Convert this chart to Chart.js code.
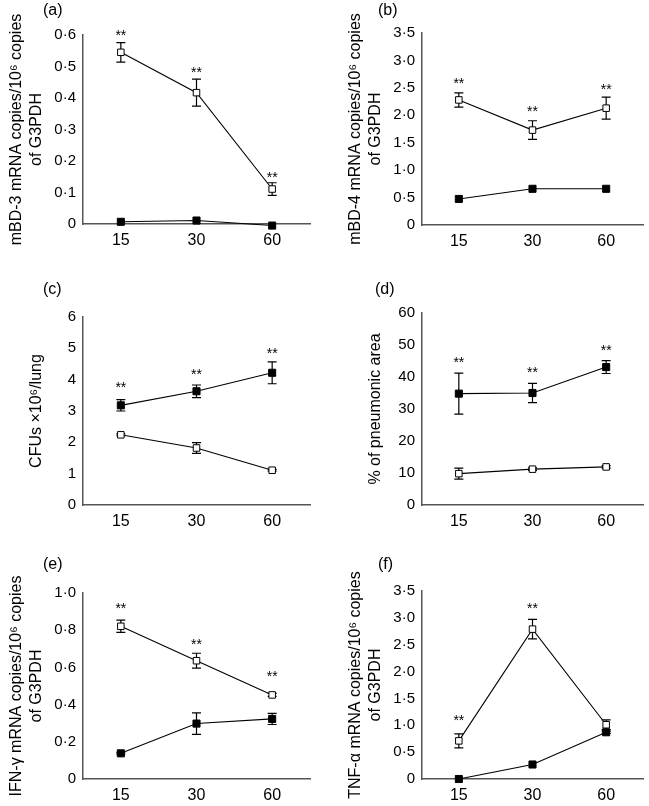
<!DOCTYPE html>
<html>
<head>
<meta charset="utf-8">
<script src="https://cdn.jsdelivr.net/npm/chart.js@4.4.0/dist/chart.umd.min.js"></script>
<style>
html, body { margin: 0; padding: 0; background: #fff; }
#wrap { position: relative; width: 649px; height: 806px; }
#wrap canvas { position: absolute; left: 0; top: 0; }
</style>
</head>
<body>
<div id="wrap"></div>
<script>
// time points (x categories)
const times = ['15', '30', '60'];

// (a) mBD-3
const aOpen = [0.545, 0.417, 0.111];
const aOpenErr = [0.031, 0.043, 0.02];
const aFilled = [0.007, 0.011, -0.005];
const aFilledErr = [0, 0, 0];
const aStars = [0.611, 0.492, 0.159];
const aTicks = [0, 0.1, 0.2, 0.3, 0.4, 0.5, 0.6];
const aLabels = ['0', '0·1', '0·2', '0·3', '0·4', '0·5', '0·6'];

// (b) mBD-4
const bOpen = [2.28, 1.73, 2.13];
const bOpenErr = [0.13, 0.17, 0.2];
const bFilled = [0.475, 0.66, 0.66];
const bFilledErr = [0, 0, 0];
const bStars = [2.65, 2.13, 2.54];
const bTicks = [0, 0.5, 1, 1.5, 2, 2.5, 3, 3.5];
const bLabels = ['0', '0·5', '1·0', '1·5', '2·0', '2·5', '3·0', '3·5'];

// (c) CFUs
const cOpen = [2.24, 1.82, 1.11];
const cOpenErr = [0.03, 0.17, 0.03];
const cFilled = [3.18, 3.63, 4.22];
const cFilledErr = [0.18, 0.2, 0.35];
const cStars = [3.85, 4.27, 4.94];
const cTicks = [0, 1, 2, 3, 4, 5, 6];
const cLabels = ['0', '1', '2', '3', '4', '5', '6'];

// (d) pneumonic area
const dOpen = [9.8, 11.2, 11.9];
const dOpenErr = [1.7, 0.4, 0.4];
const dFilled = [34.8, 35.0, 43.1];
const dFilledErr = [6.4, 3.0, 2.0];
const dStars = [45.6, 42.6, 49.4];
const dTicks = [0, 10, 20, 30, 40, 50, 60];
const dLabels = ['0', '10', '20', '30', '40', '50', '60'];

// (e) IFN-gamma
const eOpen = [0.821, 0.636, 0.452];
const eOpenErr = [0.033, 0.04, 0.008];
const eFilled = [0.138, 0.298, 0.323];
const eFilledErr = [0.005, 0.058, 0.03];
const eStars = [0.934, 0.741, 0.568];
const eTicks = [0, 0.2, 0.4, 0.6, 0.8, 1];
const eLabels = ['0', '0·2', '0·4', '0·6', '0·8', '1·0'];

// (f) TNF-alpha
const fOpen = [0.71, 2.79, 1.01];
const fOpenErr = [0.13, 0.18, 0.09];
const fFilled = [0, 0.27, 0.87];
const fFilledErr = [0, 0, 0.02];
const fStars = [1.15, 3.24, null];
const fTicks = bTicks;
const fLabels = bLabels;

const FONT = "'Liberation Sans', Arial, sans-serif";
const XFONT = "'Liberation Sans Narrow', 'Arial Narrow', 'Liberation Sans', sans-serif";

// panel boxes: plot area edges and letter position
const panels = [
  { tag: '(a)', title: ['mBD-3 mRNA copies/10⁶ copies', 'of G3PDH'], open: aOpen, openErr: aOpenErr, filled: aFilled, filledErr: aFilledErr, stars: aStars, ticks: aTicks, labels: aLabels,
    px: 0, L: 83, R: 310, T: 35, B: 224, tagX: 43, tagY: 11 },
  { tag: '(b)', title: ['mBD-4 mRNA copies/10⁶ copies', 'of G3PDH'], open: bOpen, openErr: bOpenErr, filled: bFilled, filledErr: bFilledErr, stars: bStars, ticks: bTicks, labels: bLabels,
    px: 330, L: 422, R: 645, T: 33, B: 225, tagX: 378, tagY: 11 },
  { tag: '(c)', title: 'CFUs ×10⁶/lung', open: cOpen, openErr: cOpenErr, filled: cFilled, filledErr: cFilledErr, stars: cStars, ticks: cTicks, labels: cLabels,
    px: 0, L: 83, R: 310, T: 317, B: 505, tagX: 43, tagY: 290 },
  { tag: '(d)', title: '% of pneumonic area', open: dOpen, openErr: dOpenErr, filled: dFilled, filledErr: dFilledErr, stars: dStars, ticks: dTicks, labels: dLabels,
    px: 330, L: 422, R: 645, T: 313, B: 505, tagX: 375, tagY: 290 },
  { tag: '(e)', title: ['IFN-γ mRNA copies/10⁶ copies', 'of G3PDH'], open: eOpen, openErr: eOpenErr, filled: eFilled, filledErr: eFilledErr, stars: eStars, ticks: eTicks, labels: eLabels,
    px: 0, L: 83, R: 310, T: 593, B: 779, tagX: 43, tagY: 565 },
  { tag: '(f)', title: ['TNF-α mRNA copies/10⁶ copies', 'of G3PDH'], open: fOpen, openErr: fOpenErr, filled: fFilled, filledErr: fFilledErr, stars: fStars, ticks: fTicks, labels: fLabels,
    px: 330, L: 422, R: 645, T: 591, B: 779, tagX: 378, tagY: 565 }
];

// error bars under the markers, stars and panel letter on top
const extras = {
  id: 'extras',
  beforeDatasetsDraw(chart) {
    const { ctx, scales: { x, y } } = chart;
    ctx.save();
    ctx.strokeStyle = '#000';
    ctx.lineWidth = 1.2;
    chart.data.datasets.forEach(ds => {
      ds.err.forEach((e, i) => {
        if (!e) return;
        const px = x.getPixelForValue(i);
        const y1 = y.getPixelForValue(ds.data[i] + e);
        const y2 = y.getPixelForValue(ds.data[i] - e);
        ctx.beginPath();
        ctx.moveTo(px, y1); ctx.lineTo(px, y2);
        ctx.moveTo(px - 4.5, y1); ctx.lineTo(px + 4.5, y1);
        ctx.moveTo(px - 4.5, y2); ctx.lineTo(px + 4.5, y2);
        ctx.stroke();
      });
    });
    ctx.restore();
  },
  afterDraw(chart) {
    const { ctx, scales: { x, y } } = chart;
    const p = chart.options.plugins.extras;
    ctx.save();
    ctx.fillStyle = '#000';
    ctx.textAlign = 'center';
    ctx.textBaseline = 'alphabetic';
    ctx.font = '14px ' + FONT;
    p.stars.forEach((v, i) => {
      if (v == null) return;
      ctx.fillText('**', x.getPixelForValue(i), y.getPixelForValue(v) + 8);
    });
    ctx.textAlign = 'left';
    ctx.textBaseline = 'middle';
    ctx.font = '16px ' + FONT;
    ctx.fillText(p.tag, p.tagX, p.tagY);
    ctx.restore();
  }
};

const W = 649, H = 806, XH = 25;
const wrap = document.getElementById('wrap');

panels.forEach(p => {
  const canvas = document.createElement('canvas');
  canvas.width = W;
  canvas.height = H;
  wrap.appendChild(canvas);

  const nLines = Array.isArray(p.title) ? p.title.length : 1;
  const firstLine = p.L - 46 - 20 * (nLines - 1);

  new Chart(canvas, {
    type: 'line',
    data: {
      labels: times,
      datasets: [
        {
          data: p.open, err: p.openErr,
          borderColor: '#000', borderWidth: 1.1,
          pointStyle: 'rect', pointRadius: 4.6,
          pointBackgroundColor: '#fff', pointBorderColor: '#000', pointBorderWidth: 1
        },
        {
          data: p.filled, err: p.filledErr,
          borderColor: '#000', borderWidth: 1.1,
          pointStyle: 'rect', pointRadius: 5,
          pointBackgroundColor: '#000', pointBorderColor: '#000', pointBorderWidth: 1
        }
      ]
    },
    options: {
      responsive: false,
      animation: false,
      devicePixelRatio: 1,
      clip: false,
      events: [],
      layout: { padding: { left: p.px, top: p.T, right: W - p.R, bottom: H - p.B - XH } },
      plugins: {
        legend: { display: false },
        tooltip: { enabled: false },
        extras: { stars: p.stars, tag: p.tag, tagX: p.tagX, tagY: p.tagY }
      },
      scales: {
        x: {
          type: 'category',
          offset: true,
          grid: { display: false, drawTicks: false },
          border: { display: true, color: '#555', width: 1.5 },
          ticks: { color: '#000', padding: 7, maxRotation: 0, font: { family: XFONT, size: 16 } },
          afterFit(s) { s.height = XH; }
        },
        y: {
          min: p.ticks[0],
          max: p.ticks[p.ticks.length - 1],
          grid: { display: false, drawTicks: false },
          border: { display: true, color: '#555', width: 1.5 },
          afterBuildTicks(s) { s.ticks = p.ticks.map(v => ({ value: v })); },
          ticks: {
            color: '#000', padding: 7,
            font: { family: FONT, size: 15 },
            callback: (v, i) => p.labels[i]
          },
          title: {
            display: true, text: p.title, color: '#000',
            font: { family: FONT, size: 16, lineHeight: 1.25 },
            padding: { top: firstLine - p.px - 10, bottom: 0 }
          },
          afterFit(s) { s.width = p.L - p.px; }
        }
      }
    },
    plugins: [extras]
  });
});
</script>
</body>
</html>
